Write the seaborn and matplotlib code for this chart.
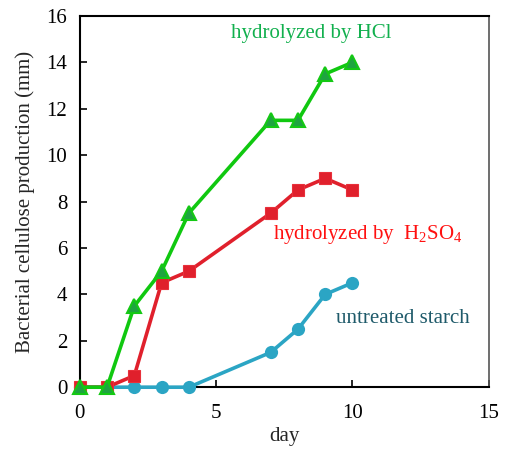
import matplotlib
matplotlib.use("Agg")
import matplotlib.pyplot as plt
import seaborn as sns
import pandas as pd

days = [0, 1, 2, 3, 4, 7, 8, 9, 10]
hcl = [0, 0, 3.5, 5, 7.5, 11.5, 11.5, 13.5, 14]
h2so4 = [0, 0, 0.5, 4.5, 5, 7.5, 8.5, 9, 8.5]
untreated = [0, 0, 0, 0, 0, 1.5, 2.5, 4, 4.5]

sns.set_theme(style="white")
plt.rcParams['font.family'] = ['Liberation Serif', 'DejaVu Serif']
plt.rcParams['mathtext.fontset'] = 'custom'
plt.rcParams['mathtext.rm'] = 'Liberation Serif'

fig = plt.figure(figsize=(5.05, 4.55), dpi=100)
ax = fig.add_axes([0.158, 0.149, 0.81, 0.816])

fs = 15
sns.lineplot(x=days, y=untreated, ax=ax, color="#2BA5C4", marker="o", markersize=9.5,
             linewidth=2.6, markeredgewidth=0, zorder=3, clip_on=False)
sns.lineplot(x=days, y=h2so4, ax=ax, color="#E0202C", marker="s", markersize=8.5,
             linewidth=2.6, markeredgewidth=0.8, markeredgecolor="#E8303A",
             zorder=4, clip_on=False)
sns.lineplot(x=days, y=hcl, ax=ax, color="#10C810", marker="^", markersize=9.5,
             linewidth=2.6, markeredgewidth=1.5, markeredgecolor="#14C814",
             markerfacecolor="#1EA440", zorder=5, clip_on=False)

ax.set_xlim(0, 15)
ax.set_ylim(0, 16)
ax.set_xticks([0, 5, 10, 15])
ax.set_yticks(range(0, 17, 2))
ax.tick_params(direction="in", length=5, width=1.2, labelsize=fs, colors="black",
               bottom=True, left=True, pad=9)
ax.tick_params(axis="x", pad=12)
ax.set_xlabel("day", fontsize=fs, labelpad=3)
ax.set_ylabel("Bacterial cellulose production (mm)", fontsize=fs, labelpad=8)

for s in ["left", "bottom", "top"]:
    ax.spines[s].set_color("black")
    ax.spines[s].set_linewidth(1.5)
ax.spines["right"].set_color("#555555")
ax.spines["right"].set_linewidth(1.2)

ax.text(8.5, 15.25, "hydrolyzed by HCl", color="#12B04E", fontsize=fs,
        ha="center", va="center")
ax.text(10.55, 6.6, r"hydrolyzed by  H$_2$SO$_4$", color="#FF1010", fontsize=fs,
        ha="center", va="center")
ax.text(11.85, 2.95, "untreated starch", color="#1E5A6A", fontsize=fs,
        ha="center", va="center")

fig.savefig("out.png", dpi=100)
